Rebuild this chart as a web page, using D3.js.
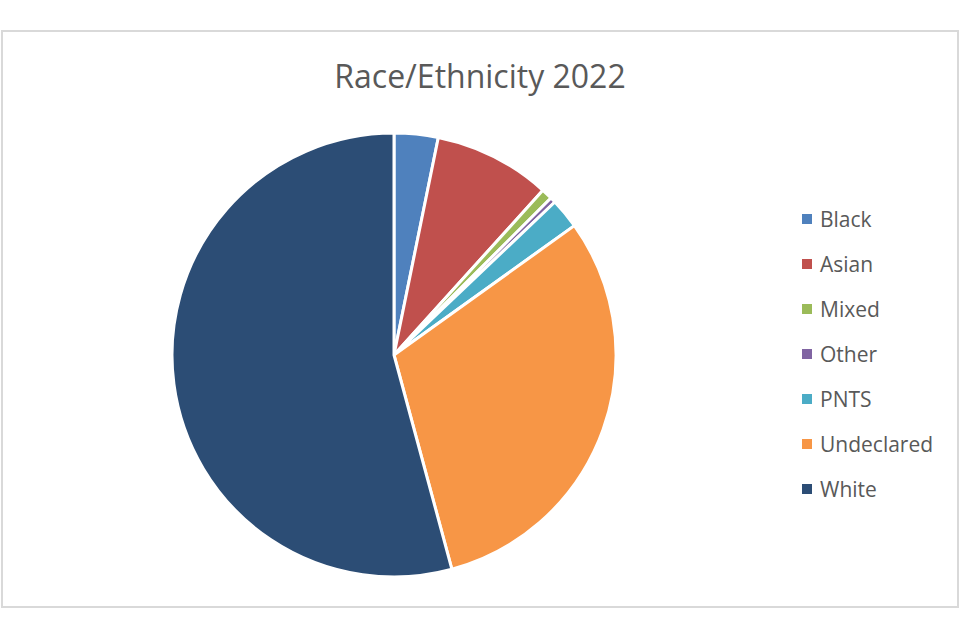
<!DOCTYPE html>
<html>
<head>
<meta charset="utf-8">
<script src="https://cdn.jsdelivr.net/npm/d3@7"></script>
<style>
  body { margin: 0; background: #fff; }
  text { font-family: "Open Sans", "Noto Sans", sans-serif; fill: #595959; }
</style>
</head>
<body>
<div id="chart"></div>
<script>
var width = 960, height = 640;

var categories = ["Black", "Asian", "Mixed", "Other", "PNTS", "Undeclared", "White"];
var values = [3.2, 8.5, 0.8, 0.4, 2.2, 30.7, 54.2];
var colors = ["#4F81BD", "#C0504D", "#9BBB59", "#8064A2", "#4BACC6", "#F79646", "#2C4D75"];

var svg = d3.select("#chart")
  .append("svg")
  .attr("width", width)
  .attr("height", height);

// chart frame
svg.append("rect")
  .attr("x", 2).attr("y", 31)
  .attr("width", 956).attr("height", 576)
  .attr("fill", "#fff")
  .attr("stroke", "#d9d9d9")
  .attr("stroke-width", 2);

svg.append("text")
  .attr("x", 480).attr("y", 88)
  .attr("text-anchor", "middle")
  .style("font-size", "32px")
  .text("Race/Ethnicity 2022");

var pie = d3.pie().sort(null).value(function(d) { return d; });
var arc = d3.arc().innerRadius(0).outerRadius(222);

var g = svg.append("g").attr("transform", "translate(394,355)");

g.selectAll("path")
  .data(pie(values))
  .enter().append("path")
    .attr("d", arc)
    .attr("fill", function(d, i) { return colors[i]; })
    .attr("stroke", "#fff")
    .attr("stroke-width", 3)
    .attr("stroke-linejoin", "round");

var y = d3.scalePoint().domain(categories).range([219, 489]);

var legend = svg.append("g").selectAll("g")
  .data(categories)
  .enter().append("g")
    .attr("transform", function(d) { return "translate(802," + y(d) + ")"; });

legend.append("rect")
  .attr("x", 0).attr("y", -5)
  .attr("width", 10).attr("height", 10)
  .attr("fill", function(d, i) { return colors[i]; });

legend.append("text")
  .attr("x", 18).attr("y", 8)
  .style("font-size", "21px")
  .text(function(d) { return d; });
</script>
</body>
</html>
